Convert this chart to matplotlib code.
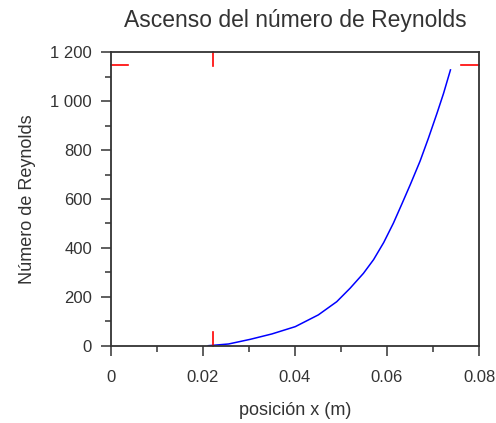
import numpy as np
import matplotlib.pyplot as plt
from matplotlib.ticker import MultipleLocator, FuncFormatter

# curve
x = [0.0212, 0.0256, 0.0303, 0.0350, 0.0401, 0.0451, 0.0491, 0.0520,
     0.0549, 0.0571, 0.0593, 0.0614, 0.0633, 0.0651, 0.0672, 0.0690,
     0.0709, 0.0723, 0.0738]
re = [0, 7, 26, 48, 78, 126, 180, 235,
      296, 352, 422, 501, 582, 660, 755, 848,
      952, 1032, 1128]

# red marks on the frame
mark_x = 0.0222
mark_y = 1150

plt.rcParams['font.family'] = ['Liberation Sans', 'DejaVu Sans']
fig = plt.figure(figsize=(4.96, 4.23), dpi=100)
ax = fig.add_axes([110.7/496, 1 - 345.7/423, (479 - 110.7)/496, (345.7 - 52.3)/423])

ax.plot(x, re, color='#0000ff', lw=1.1)

# short red ticks pointing inward from the frame
ax.plot([mark_x, mark_x], [0, 0.045], color='red', lw=1.2, transform=ax.get_xaxis_transform(), clip_on=False)
ax.plot([mark_x, mark_x], [1, 1 - 0.045], color='red', lw=1.2, transform=ax.get_xaxis_transform(), clip_on=False)
ax.plot([0, 0.048], [mark_y, mark_y], color='red', lw=1.2, transform=ax.get_yaxis_transform(), clip_on=False)
ax.plot([1, 1 - 0.048], [mark_y, mark_y], color='red', lw=1.2, transform=ax.get_yaxis_transform(), clip_on=False)

ax.set_xlim(0, 0.08)
ax.set_ylim(0, 1200)
ax.xaxis.set_major_locator(MultipleLocator(0.02))
ax.xaxis.set_minor_locator(MultipleLocator(0.01))
ax.yaxis.set_major_locator(MultipleLocator(200))
ax.yaxis.set_minor_locator(MultipleLocator(100))
ax.xaxis.set_major_formatter(FuncFormatter(lambda v, p: '0' if v == 0 else f'{v:g}'))
ax.yaxis.set_major_formatter(FuncFormatter(lambda v, p: f'{int(v):,}'.replace(',', ' ')))

ax.tick_params(which='major', direction='out', length=7.5, width=1.1, labelsize=12,
               colors='#333333', pad=6)
ax.tick_params(axis='x', which='major', pad=10)
ax.tick_params(which='minor', direction='out', length=4, width=1.1, colors='#333333')
for s in ax.spines.values():
    s.set_color('#333333')
    s.set_linewidth(1.3)

ax.set_title('Ascenso del número de Reynolds', fontsize=16.5, color='#333333', pad=18)
ax.set_xlabel('posición x (m)', fontsize=13, color='#333333', labelpad=12)
ax.set_ylabel('Número de Reynolds', fontsize=13, color='#333333', labelpad=10)

fig.savefig('out.png', dpi=100)
